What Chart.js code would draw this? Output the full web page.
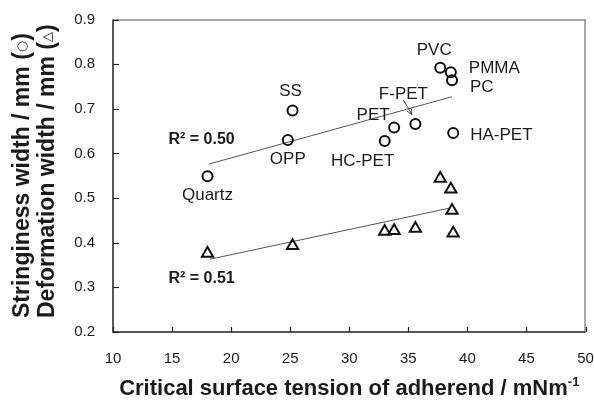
<!DOCTYPE html>
<html lang="en">
<head>
<meta charset="UTF-8">
<title>Stringiness / deformation width vs critical surface tension</title>
<script src="https://cdn.jsdelivr.net/npm/chart.js"></script>
<style>
  html, body { margin: 0; padding: 0; background: #fff; }
  #wrap { width: 594px; height: 405px; }
</style>
</head>
<body>
<div id="wrap"><canvas id="tensionChart" width="594" height="405"></canvas></div>
<script>
// values
var adherends   = ['Quartz', 'OPP', 'SS', 'HC-PET', 'PET', 'F-PET', 'PVC', 'PMMA', 'PC', 'HA-PET'];
var tension     = [18.0, 24.8, 25.2, 33.0, 33.8, 35.6, 37.7, 38.6, 38.7, 38.8];
var stringiness = [0.549, 0.630, 0.696, 0.628, 0.658, 0.666, 0.792, 0.782, 0.764, 0.646];

var deformTension = [18.0, 25.2, 33.0, 33.8, 35.6, 37.7, 38.6, 38.7, 38.8];
var deformation   = [0.376, 0.393, 0.425, 0.427, 0.432, 0.544, 0.520, 0.472, 0.421];

// regression lines, end points as drawn
var stringFitX = [18.1, 38.7];
var stringFitY = [0.576, 0.727];
var deformFitX = [18.2, 38.4];
var deformFitY = [0.363, 0.477];

var xTicks = [10, 15, 20, 25, 30, 35, 40, 45, 50];
var yTicks = [0.2, 0.3, 0.4, 0.5, 0.6, 0.7, 0.8, 0.9];
var r2Text = ['R\u00B2 = 0.50', 'R\u00B2 = 0.51'];

var INK = '#1b1b1b';
var FONT = "'Liberation Sans', Arial, sans-serif";

function pairs(xs, ys) {
    return xs.map(function (x, i) { return { x: x, y: ys[i] }; });
}

// where each material name sits relative to its circle (px)
var labelSpots = {
    'Quartz': [0, 19, 'center'],
    'OPP':    [0, 19, 'center'],
    'SS':     [-2, -19, 'center'],
    'HC-PET': [-22, 20, 'center'],
    'PET':    [-21, -12, 'center'],
    'F-PET':  [-12, -30, 'center'],
    'PVC':    [-6, -17, 'center'],
    'PMMA':   [18, -4, 'left'],
    'PC':     [18, 7, 'left'],
    'HA-PET': [17, 2, 'left']
};

function drawRun(ctx, x, y, parts) {
    // parts drawn left to right on one baseline
    parts.forEach(function (p) {
        ctx.font = p.font;
        ctx.fillText(p.t, x, y + (p.dy || 0));
        x += ctx.measureText(p.t).width;
    });
}

function runWidth(ctx, parts) {
    var w = 0;
    parts.forEach(function (p) { ctx.font = p.font; w += ctx.measureText(p.t).width; });
    return w;
}

// keep the plot box where the figure has it, labels may overhang
function noOverhang(s) {
    s.paddingLeft = 0; s.paddingRight = 0; s.paddingTop = 0; s.paddingBottom = 0;
}

var annotate = {
    id: 'annotate',
    afterDraw: function (chart) {
        var ctx = chart.ctx, sx = chart.scales.x, sy = chart.scales.y, a = chart.chartArea;
        ctx.save();

        // frame
        ctx.strokeStyle = '#555';
        ctx.lineWidth = 1;
        ctx.beginPath();
        ctx.moveTo(a.left, a.top + 0.5); ctx.lineTo(a.right, a.top + 0.5);
        ctx.moveTo(a.right - 0.5, a.top); ctx.lineTo(a.right - 0.5, a.bottom);
        ctx.stroke();
        ctx.strokeStyle = '#222';
        ctx.lineWidth = 1.5;
        ctx.beginPath();
        ctx.moveTo(a.left, a.top); ctx.lineTo(a.left, a.bottom); ctx.lineTo(a.right, a.bottom);
        ctx.stroke();

        // inward tick marks
        ctx.lineWidth = 1.2;
        xTicks.forEach(function (v) {
            var px = Math.round(sx.getPixelForValue(v)) + 0.5;
            ctx.beginPath(); ctx.moveTo(px, a.bottom); ctx.lineTo(px, a.bottom - 5); ctx.stroke();
        });
        yTicks.forEach(function (v) {
            var py = Math.round(sy.getPixelForValue(v)) + 0.5;
            ctx.beginPath(); ctx.moveTo(a.left, py); ctx.lineTo(a.left + 6, py); ctx.stroke();
        });

        // material names
        ctx.fillStyle = INK;
        ctx.textBaseline = 'middle';
        ctx.font = '17px ' + FONT;
        adherends.forEach(function (name, i) {
            var s = labelSpots[name];
            var px = sx.getPixelForValue(tension[i]);
            var py = sy.getPixelForValue(stringiness[i]);
            ctx.textAlign = s[2];
            ctx.fillText(name, px + s[0], py + s[1]);
        });

        // arrow from F-PET label to its point
        var fi = adherends.indexOf('F-PET');
        var fx = sx.getPixelForValue(tension[fi]), fy = sy.getPixelForValue(stringiness[fi]);
        var x0 = fx - 12, y0 = fy - 24, x1 = fx - 3.5, y1 = fy - 9.5;
        ctx.strokeStyle = '#444';
        ctx.lineWidth = 1;
        ctx.beginPath(); ctx.moveTo(x0, y0); ctx.lineTo(x1, y1); ctx.stroke();
        var ang = Math.atan2(y1 - y0, x1 - x0);
        ctx.beginPath();
        ctx.moveTo(x1 - 6 * Math.cos(ang - 0.45), y1 - 6 * Math.sin(ang - 0.45));
        ctx.lineTo(x1, y1);
        ctx.lineTo(x1 - 6 * Math.cos(ang + 0.45), y1 - 6 * Math.sin(ang + 0.45));
        ctx.stroke();

        // R squared
        ctx.font = 'bold 16px ' + FONT;
        ctx.textAlign = 'center';
        ctx.fillText(r2Text[0], sx.getPixelForValue(17.5), sy.getPixelForValue(0.631));
        ctx.fillText(r2Text[1], sx.getPixelForValue(17.5), sy.getPixelForValue(0.320));

        // x title with superscript
        var bold = 'bold 22px ' + FONT;
        var xt = [
            { t: 'Critical surface tension of adherend / mNm', font: bold },
            { t: '-1', font: 'bold 13px ' + FONT, dy: -9 }
        ];
        ctx.textAlign = 'left';
        ctx.textBaseline = 'alphabetic';
        var w = runWidth(ctx, xt);
        drawRun(ctx, (a.left + a.right) / 2 - w / 2, 395, xt);

        // y title, two rotated lines
        var ybold = 'bold 23px ' + FONT;
        var sym = "13px 'DejaVu Sans', sans-serif";
        var lines = [
            [{ t: 'Stringiness width / mm (', font: ybold }, { t: '\u25CB', font: sym, dy: -3 }, { t: ')', font: ybold }],
            [{ t: 'Deformation width / mm (', font: ybold }, { t: '\u25B3', font: sym, dy: -3 }, { t: ')', font: ybold }]
        ];
        var cols = [29, 54];
        lines.forEach(function (ln, k) {
            ctx.save();
            ctx.translate(cols[k], 318);
            ctx.rotate(-Math.PI / 2);
            drawRun(ctx, 0, 0, ln);
            ctx.restore();
        });

        ctx.restore();
    }
};

var ctx = document.getElementById('tensionChart').getContext('2d');
var tensionChart = new Chart(ctx, {
    type: 'scatter',
    data: {
        datasets: [
            {
                label: 'Stringiness width',
                data: pairs(tension, stringiness),
                pointStyle: 'circle',
                pointRadius: 5,
                borderWidth: 2,
                borderColor: '#111',
                backgroundColor: 'rgba(255,255,255,0)',
                order: 1
            },
            {
                label: 'Deformation width',
                data: pairs(deformTension, deformation),
                pointStyle: 'triangle',
                pointRadius: 6.5,
                borderWidth: 2,
                borderColor: '#111',
                backgroundColor: 'rgba(255,255,255,0)',
                order: 1
            },
            {
                type: 'line',
                label: 'Stringiness fit',
                data: pairs(stringFitX, stringFitY),
                borderColor: '#555',
                borderWidth: 1,
                pointRadius: 0,
                fill: false,
                order: 2
            },
            {
                type: 'line',
                label: 'Deformation fit',
                data: pairs(deformFitX, deformFitY),
                borderColor: '#555',
                borderWidth: 1,
                pointRadius: 0,
                fill: false,
                order: 2
            }
        ]
    },
    options: {
        responsive: false,
        animation: false,
        devicePixelRatio: 1,
        layout: { padding: { top: 19.5, right: 8, left: 0, bottom: 0 } },
        plugins: { legend: { display: false }, tooltip: { enabled: false } },
        scales: {
            x: {
                type: 'linear',
                min: 10, max: 50,
                afterBuildTicks: function (s) { s.ticks = xTicks.map(function (v) { return { value: v }; }); },
                afterFit: function (s) { s.height = 73; noOverhang(s); },
                grid: { display: false, drawTicks: false },
                border: { display: false },
                ticks: { padding: 18, color: INK, font: { family: FONT, size: 15 }, maxRotation: 0 }
            },
            y: {
                type: 'linear',
                min: 0.2, max: 0.9,
                afterBuildTicks: function (s) { s.ticks = yTicks.map(function (v) { return { value: v }; }); },
                afterFit: function (s) { s.width = 113; noOverhang(s); },
                grid: { display: false, drawTicks: false },
                border: { display: false },
                ticks: {
                    padding: 18, color: INK, font: { family: FONT, size: 15 },
                    callback: function (v) { return v.toFixed(1); }
                }
            }
        }
    },
    plugins: [annotate]
});
</script>
</body>
</html>
